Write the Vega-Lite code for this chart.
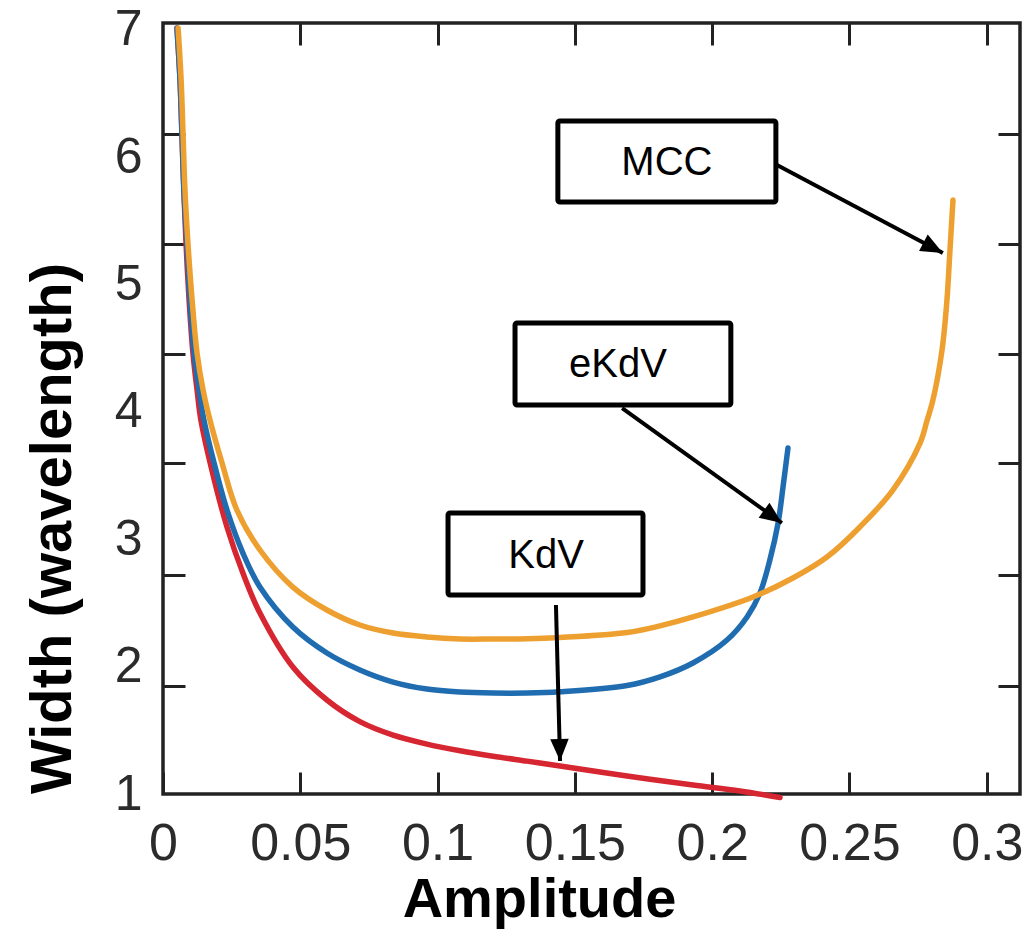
{
  "$schema": "https://vega.github.io/schema/vega-lite/v6.json",
  "width": 857,
  "height": 771,
  "autosize": "none",
  "padding": {"left": 163, "top": 23, "right": 2, "bottom": 136},
  "background": "white",
  "config": {
    "view": {"stroke": "#222222", "strokeWidth": 3.5},
    "axis": {
      "domain": false,
      "grid": false,
      "labelFont": "Liberation Sans",
      "labelColor": "#2b2b2b",
      "tickColor": "#222222",
      "tickWidth": 3,
      "labelFlush": false,
      "labelOverlap": false
    }
  },
  "datasets": {
    "curves": [
      {"model": "KdV", "amplitude": 0.0051, "width": 7.015},
      {"model": "KdV", "amplitude": 0.0062, "width": 6.607},
      {"model": "KdV", "amplitude": 0.0069, "width": 6.183},
      {"model": "KdV", "amplitude": 0.0076, "width": 5.743},
      {"model": "KdV", "amplitude": 0.0084, "width": 5.319},
      {"model": "KdV", "amplitude": 0.0095, "width": 4.879},
      {"model": "KdV", "amplitude": 0.0109, "width": 4.463},
      {"model": "KdV", "amplitude": 0.0124, "width": 4.173},
      {"model": "KdV", "amplitude": 0.0138, "width": 3.937},
      {"model": "KdV", "amplitude": 0.0178, "width": 3.544},
      {"model": "KdV", "amplitude": 0.0233, "width": 3.097},
      {"model": "KdV", "amplitude": 0.0291, "width": 2.735},
      {"model": "KdV", "amplitude": 0.0353, "width": 2.421},
      {"model": "KdV", "amplitude": 0.0473, "width": 1.997},
      {"model": "KdV", "amplitude": 0.0597, "width": 1.738},
      {"model": "KdV", "amplitude": 0.0717, "width": 1.568},
      {"model": "KdV", "amplitude": 0.0838, "width": 1.462},
      {"model": "KdV", "amplitude": 0.0961, "width": 1.392},
      {"model": "KdV", "amplitude": 0.1082, "width": 1.340},
      {"model": "KdV", "amplitude": 0.1202, "width": 1.297},
      {"model": "KdV", "amplitude": 0.1326, "width": 1.258},
      {"model": "KdV", "amplitude": 0.1446, "width": 1.220},
      {"model": "KdV", "amplitude": 0.1690, "width": 1.141},
      {"model": "KdV", "amplitude": 0.1930, "width": 1.071},
      {"model": "KdV", "amplitude": 0.2101, "width": 1.024},
      {"model": "KdV", "amplitude": 0.2247, "width": 0.972},
      {"model": "eKdV", "amplitude": 0.0051, "width": 7.015},
      {"model": "eKdV", "amplitude": 0.0062, "width": 6.607},
      {"model": "eKdV", "amplitude": 0.0069, "width": 6.183},
      {"model": "eKdV", "amplitude": 0.0076, "width": 5.743},
      {"model": "eKdV", "amplitude": 0.0087, "width": 5.319},
      {"model": "eKdV", "amplitude": 0.0098, "width": 4.879},
      {"model": "eKdV", "amplitude": 0.0113, "width": 4.463},
      {"model": "eKdV", "amplitude": 0.0131, "width": 4.173},
      {"model": "eKdV", "amplitude": 0.0149, "width": 3.937},
      {"model": "eKdV", "amplitude": 0.0186, "width": 3.599},
      {"model": "eKdV", "amplitude": 0.0233, "width": 3.230},
      {"model": "eKdV", "amplitude": 0.0291, "width": 2.892},
      {"model": "eKdV", "amplitude": 0.0353, "width": 2.625},
      {"model": "eKdV", "amplitude": 0.0473, "width": 2.311},
      {"model": "eKdV", "amplitude": 0.0597, "width": 2.107},
      {"model": "eKdV", "amplitude": 0.0717, "width": 1.974},
      {"model": "eKdV", "amplitude": 0.0838, "width": 1.879},
      {"model": "eKdV", "amplitude": 0.0961, "width": 1.824},
      {"model": "eKdV", "amplitude": 0.1082, "width": 1.801},
      {"model": "eKdV", "amplitude": 0.1202, "width": 1.793},
      {"model": "eKdV", "amplitude": 0.1326, "width": 1.793},
      {"model": "eKdV", "amplitude": 0.1446, "width": 1.803},
      {"model": "eKdV", "amplitude": 0.1690, "width": 1.852},
      {"model": "eKdV", "amplitude": 0.1810, "width": 1.920},
      {"model": "eKdV", "amplitude": 0.1930, "width": 2.029},
      {"model": "eKdV", "amplitude": 0.2054, "width": 2.209},
      {"model": "eKdV", "amplitude": 0.2127, "width": 2.390},
      {"model": "eKdV", "amplitude": 0.2174, "width": 2.578},
      {"model": "eKdV", "amplitude": 0.2210, "width": 2.837},
      {"model": "eKdV", "amplitude": 0.2240, "width": 3.128},
      {"model": "eKdV", "amplitude": 0.2258, "width": 3.411},
      {"model": "eKdV", "amplitude": 0.2276, "width": 3.717},
      {"model": "MCC", "amplitude": 0.0055, "width": 7.015},
      {"model": "MCC", "amplitude": 0.0066, "width": 6.607},
      {"model": "MCC", "amplitude": 0.0073, "width": 6.183},
      {"model": "MCC", "amplitude": 0.0080, "width": 5.743},
      {"model": "MCC", "amplitude": 0.0091, "width": 5.319},
      {"model": "MCC", "amplitude": 0.0106, "width": 4.879},
      {"model": "MCC", "amplitude": 0.0124, "width": 4.463},
      {"model": "MCC", "amplitude": 0.0146, "width": 4.173},
      {"model": "MCC", "amplitude": 0.0171, "width": 3.937},
      {"model": "MCC", "amplitude": 0.0215, "width": 3.599},
      {"model": "MCC", "amplitude": 0.0269, "width": 3.230},
      {"model": "MCC", "amplitude": 0.0353, "width": 2.916},
      {"model": "MCC", "amplitude": 0.0473, "width": 2.625},
      {"model": "MCC", "amplitude": 0.0597, "width": 2.445},
      {"model": "MCC", "amplitude": 0.0717, "width": 2.327},
      {"model": "MCC", "amplitude": 0.0838, "width": 2.264},
      {"model": "MCC", "amplitude": 0.0961, "width": 2.233},
      {"model": "MCC", "amplitude": 0.1082, "width": 2.217},
      {"model": "MCC", "amplitude": 0.1202, "width": 2.217},
      {"model": "MCC", "amplitude": 0.1326, "width": 2.219},
      {"model": "MCC", "amplitude": 0.1446, "width": 2.229},
      {"model": "MCC", "amplitude": 0.1690, "width": 2.268},
      {"model": "MCC", "amplitude": 0.1810, "width": 2.320},
      {"model": "MCC", "amplitude": 0.1930, "width": 2.390},
      {"model": "MCC", "amplitude": 0.2149, "width": 2.547},
      {"model": "MCC", "amplitude": 0.2294, "width": 2.696},
      {"model": "MCC", "amplitude": 0.2418, "width": 2.861},
      {"model": "MCC", "amplitude": 0.2538, "width": 3.097},
      {"model": "MCC", "amplitude": 0.2658, "width": 3.387},
      {"model": "MCC", "amplitude": 0.2757, "width": 3.756},
      {"model": "MCC", "amplitude": 0.2782, "width": 3.929},
      {"model": "MCC", "amplitude": 0.2804, "width": 4.094},
      {"model": "MCC", "amplitude": 0.2837, "width": 4.486},
      {"model": "MCC", "amplitude": 0.2855, "width": 4.879},
      {"model": "MCC", "amplitude": 0.2866, "width": 5.272},
      {"model": "MCC", "amplitude": 0.2877, "width": 5.664}
    ],
    "boxes": [
      {"label": "MCC", "x1": 0.1438, "x2": 0.2232, "y1": 6.285, "y2": 5.649, "tx": 0.1835, "ty": 5.955},
      {"label": "eKdV", "x1": 0.1282, "x2": 0.2068, "y1": 4.699, "y2": 4.055, "tx": 0.1657, "ty": 4.369},
      {"label": "KdV", "x1": 0.1038, "x2": 0.1748, "y1": 3.207, "y2": 2.563, "tx": 0.1395, "ty": 2.869}
    ],
    "arrows": [
      {"label": "MCC", "x": 0.2236, "y": 5.939, "x2": 0.2840, "y2": 5.248},
      {"label": "eKdV", "x": 0.1672, "y": 4.031, "x2": 0.2254, "y2": 3.128},
      {"label": "KdV", "x": 0.1431, "y": 2.484, "x2": 0.1446, "y2": 1.259}
    ]
  },
  "resolve": {"axis": {"x": "independent", "y": "independent"}},
  "layer": [
    {
      "data": {"name": "curves"},
      "mark": {"type": "line", "strokeWidth": 5.5, "strokeCap": "round", "strokeJoin": "round", "interpolate": "catmull-rom"},
      "encoding": {
        "x": {
          "field": "amplitude", "type": "quantitative",
          "scale": {"domain": [0, 0.3121], "nice": false, "zero": false},
          "axis": {
            "orient": "bottom",
            "values": [0, 0.05, 0.1, 0.15, 0.2, 0.25, 0.3],
            "format": "~g",
            "labelFontSize": 52,
            "tickSize": -22,
            "labelPadding": 46,
            "title": "Amplitude",
            "titleFont": "Liberation Sans",
            "titleFontSize": 56,
            "titleFontWeight": "bold",
            "titleColor": "#000000",
            "titleX": 376,
            "titleY": 122,
            "titleAlign": "center",
            "titleBaseline": "alphabetic"
          }
        },
        "y": {
          "field": "width", "type": "quantitative",
          "scale": {"domain": [1, 7.0542], "nice": false, "zero": false},
          "axis": {
            "orient": "left",
            "values": [1, 2, 3, 4, 5, 6, 7],
            "format": "d",
            "ticks": false,
            "labelFontSize": 50,
            "labelPadding": 21,
            "title": "Width (wavelength)",
            "titleFont": "Liberation Sans",
            "titleFontSize": 58,
            "titleFontWeight": "bold",
            "titleColor": "#000000",
            "titleAngle": -90,
            "titleX": -93,
            "titleY": 505,
            "titleAlign": "center",
            "titleBaseline": "alphabetic"
          }
        },
        "color": {
          "field": "model", "type": "nominal",
          "scale": {"domain": ["KdV", "eKdV", "MCC"], "range": ["#D62631", "#1F6DB0", "#EDA030"]},
          "legend": null
        }
      }
    },
    {
      "data": {"name": "boxes"},
      "mark": {"type": "rect", "fill": "white", "stroke": "black", "strokeWidth": 5, "cornerRadius": 2},
      "encoding": {
        "x": {
          "field": "x1", "type": "quantitative",
          "scale": {"domain": [0, 0.3121], "nice": false, "zero": false},
          "axis": {"orient": "top", "values": [0.05, 0.1, 0.15, 0.2, 0.25, 0.3], "labels": false, "tickSize": -22, "title": null}
        },
        "x2": {"field": "x2"},
        "y": {
          "field": "y1", "type": "quantitative",
          "scale": {"domain": [1, 7.0542], "nice": false, "zero": false},
          "axis": {"orient": "left", "values": [1.848, 2.72, 3.599, 4.455, 5.319, 6.183], "labels": false, "tickSize": -22, "title": null}
        },
        "y2": {"field": "y2"}
      }
    },
    {
      "data": {"name": "boxes"},
      "mark": {"type": "text", "font": "Liberation Sans", "fontSize": 40, "color": "black", "align": "center", "baseline": "middle"},
      "encoding": {
        "x": {
          "field": "tx", "type": "quantitative",
          "scale": {"domain": [0, 0.3121], "nice": false, "zero": false},
          "axis": null
        },
        "y": {
          "field": "ty", "type": "quantitative",
          "scale": {"domain": [1, 7.0542], "nice": false, "zero": false},
          "axis": {"orient": "right", "values": [1.848, 2.72, 3.599, 4.455, 5.319, 6.183], "labels": false, "tickSize": -22, "title": null}
        },
        "text": {"field": "label"}
      }
    },
    {
      "data": {"name": "arrows"},
      "mark": {"type": "rule", "stroke": "black", "strokeWidth": 4},
      "encoding": {
        "x": {"field": "x", "type": "quantitative", "scale": {"domain": [0, 0.3121], "nice": false, "zero": false}, "axis": null},
        "y": {"field": "y", "type": "quantitative", "scale": {"domain": [1, 7.0542], "nice": false, "zero": false}, "axis": null},
        "x2": {"field": "x2"},
        "y2": {"field": "y2"}
      }
    },
    {
      "data": {"name": "arrows"},
      "transform": [{"filter": {"field": "label", "equal": "MCC"}}],
      "mark": {"type": "point", "shape": "M0,0L-1,-0.42L-1,0.42Z", "size": 1936, "angle": 27.9, "filled": true, "fill": "black", "opacity": 1, "strokeWidth": 0},
      "encoding": {
        "x": {"field": "x2", "type": "quantitative", "scale": {"domain": [0, 0.3121], "nice": false, "zero": false}, "axis": null},
        "y": {"field": "y2", "type": "quantitative", "scale": {"domain": [1, 7.0542], "nice": false, "zero": false}, "axis": null}
      }
    },
    {
      "data": {"name": "arrows"},
      "transform": [{"filter": {"field": "label", "equal": "eKdV"}}],
      "mark": {"type": "point", "shape": "M0,0L-1,-0.42L-1,0.42Z", "size": 1936, "angle": 35.7, "filled": true, "fill": "black", "opacity": 1, "strokeWidth": 0},
      "encoding": {
        "x": {"field": "x2", "type": "quantitative", "scale": {"domain": [0, 0.3121], "nice": false, "zero": false}, "axis": null},
        "y": {"field": "y2", "type": "quantitative", "scale": {"domain": [1, 7.0542], "nice": false, "zero": false}, "axis": null}
      }
    },
    {
      "data": {"name": "arrows"},
      "transform": [{"filter": {"field": "label", "equal": "KdV"}}],
      "mark": {"type": "point", "shape": "M0,0L-1,-0.42L-1,0.42Z", "size": 1936, "angle": 88.5, "filled": true, "fill": "black", "opacity": 1, "strokeWidth": 0},
      "encoding": {
        "x": {"field": "x2", "type": "quantitative", "scale": {"domain": [0, 0.3121], "nice": false, "zero": false}, "axis": null},
        "y": {"field": "y2", "type": "quantitative", "scale": {"domain": [1, 7.0542], "nice": false, "zero": false}, "axis": null}
      }
    }
  ]
}
